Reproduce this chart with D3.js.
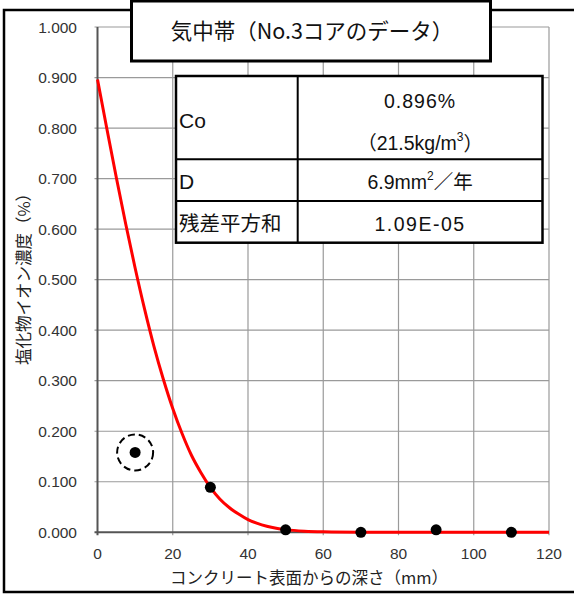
<!DOCTYPE html>
<html>
<head>
<meta charset="utf-8">
<script src="https://cdn.jsdelivr.net/npm/d3@7"></script>
<style>
  body { margin: 0; background: #fff; }
  text { font-family: "Liberation Sans", "Noto Sans CJK JP", sans-serif; }
  .jp { font-family: "Noto Sans CJK JP", sans-serif; }
</style>
</head>
<body>
<div id="chart"></div>
<script>
// measured points (depth mm, chloride %)
var depth = [10, 30, 50, 70, 90, 110];
var conc = [0.158, 0.089, 0.005, 0.000, 0.005, 0.000];
var outlierIdx = 0; // circled point

// fitted curve
var curveDepth = [0, 2.5, 5, 7.5, 10, 12.5, 15, 17.5, 20, 22.5, 25, 27.5, 30, 32.5, 35, 37.5, 40, 42.5, 45, 47.5, 50, 55, 60, 70, 80, 100, 120];
var curveConc = [0.896, 0.798, 0.702, 0.610, 0.523, 0.442, 0.368, 0.303, 0.245, 0.195, 0.152, 0.118, 0.089, 0.066, 0.049, 0.036, 0.025, 0.0175, 0.012, 0.008, 0.0053, 0.0022, 0.0009, 0.0001, 0, 0, 0];

var xTicks = [0, 20, 40, 60, 80, 100, 120];
var yTicks = [0, 0.1, 0.2, 0.3, 0.4, 0.5, 0.6, 0.7, 0.8, 0.9, 1.0];

var title = "気中帯（No.3コアのデータ）";
var xTitle = "コンクリート表面からの深さ（mm）";
var yTitle = "塩化物イオン濃度（%）";

var W = 574, H = 596;
var svg = d3.select("#chart").append("svg")
    .attr("width", W)
    .attr("height", H);

// outer frame
svg.append("rect")
    .attr("x", 4).attr("y", 10)
    .attr("width", 600).attr("height", 582)
    .attr("fill", "#fff")
    .attr("stroke", "#000")
    .attr("stroke-width", 2.5);

var x = d3.scaleLinear().domain([0, 120]).range([97.5, 549]);
var y = d3.scaleLinear().domain([0, 1]).range([532.3, 27]);

// grid
var grid = svg.append("g");
grid.selectAll(".vg").data(xTicks.slice(1)).enter().append("line")
    .attr("x1", d => x(d)).attr("x2", d => x(d))
    .attr("y1", y(1)).attr("y2", y(0) + 3)
    .attr("stroke", "#9a9a9a").attr("stroke-width", 1.2);
grid.selectAll(".hg").data(yTicks.slice(1)).enter().append("line")
    .attr("x1", x(0) - 3).attr("x2", x(120))
    .attr("y1", d => y(d)).attr("y2", d => y(d))
    .attr("stroke", "#9a9a9a").attr("stroke-width", 1.2);

// axes lines
svg.append("line")
    .attr("x1", x(0)).attr("x2", x(0))
    .attr("y1", y(1)).attr("y2", y(0) + 3)
    .attr("stroke", "#555").attr("stroke-width", 2);
svg.append("line")
    .attr("x1", x(0) - 3).attr("x2", x(120))
    .attr("y1", y(0)).attr("y2", y(0))
    .attr("stroke", "#555").attr("stroke-width", 2);

// tick labels
svg.append("g").selectAll("text").data(yTicks).enter().append("text")
    .attr("x", 77)
    .attr("y", d => y(d))
    .attr("dy", "0.36em")
    .attr("text-anchor", "end")
    .attr("font-size", 15.5)
    .attr("fill", "#333")
    .text(d => d3.format(".3f")(d));

svg.append("g").selectAll("text").data(xTicks).enter().append("text")
    .attr("x", d => x(d))
    .attr("y", 553)
    .attr("dy", "0.36em")
    .attr("text-anchor", "middle")
    .attr("font-size", 15.5)
    .attr("fill", "#333")
    .text(d => d);

// axis titles
svg.append("text")
    .attr("class", "jp")
    .attr("x", 309).attr("y", 578)
    .attr("dy", "0.36em")
    .attr("text-anchor", "middle")
    .attr("font-size", 16.5)
    .attr("fill", "#222")
    .text(xTitle);

svg.append("text")
    .attr("class", "jp")
    .attr("transform", "translate(24,275) rotate(-90)")
    .attr("dy", "0.36em")
    .attr("text-anchor", "middle")
    .attr("font-size", 16.5)
    .attr("fill", "#222")
    .text(yTitle);

// fitted curve
var line = d3.line()
    .x((d, i) => x(curveDepth[i]))
    .y(d => y(d))
    .curve(d3.curveMonotoneX);
svg.append("path")
    .datum(curveConc)
    .attr("fill", "none")
    .attr("stroke", "#ff0000")
    .attr("stroke-width", 3)
    .attr("d", line);

// points
svg.append("g").selectAll("circle").data(conc).enter().append("circle")
    .attr("cx", (d, i) => x(depth[i]))
    .attr("cy", d => y(d))
    .attr("r", 5.5)
    .attr("fill", "#000");

svg.append("circle")
    .attr("cx", x(depth[outlierIdx]))
    .attr("cy", y(conc[outlierIdx]))
    .attr("r", 18)
    .attr("fill", "none")
    .attr("stroke", "#000")
    .attr("stroke-width", 2)
    .attr("stroke-dasharray", "7,4");

// title box
svg.append("rect")
    .attr("x", 131.5).attr("y", 1)
    .attr("width", 359).attr("height", 60)
    .attr("fill", "#fff")
    .attr("stroke", "#000")
    .attr("stroke-width", 3);
svg.append("text")
    .attr("class", "jp")
    .attr("x", 312).attr("y", 31)
    .attr("dy", "0.36em")
    .attr("text-anchor", "middle")
    .attr("font-size", 21.5)
    .attr("fill", "#111")
    .text(title);

// parameter table
var tx0 = 176, tx1 = 542.5, tcol = 297.7;
var ty = [76, 159.3, 201, 242.7];
var tbl = svg.append("g");
tbl.append("rect")
    .attr("x", tx0).attr("y", ty[0])
    .attr("width", tx1 - tx0).attr("height", ty[3] - ty[0])
    .attr("fill", "#fff")
    .attr("stroke", "#000")
    .attr("stroke-width", 2.5);
tbl.append("line").attr("x1", tcol).attr("x2", tcol).attr("y1", ty[0]).attr("y2", ty[3])
    .attr("stroke", "#000").attr("stroke-width", 2);
[ty[1], ty[2]].forEach(function(v) {
  tbl.append("line").attr("x1", tx0).attr("x2", tx1).attr("y1", v).attr("y2", v)
      .attr("stroke", "#000").attr("stroke-width", 2);
});

var cx = (tcol + tx1) / 2;
function cell(xp, yp, anchor, size) {
  return tbl.append("text")
      .attr("x", xp).attr("y", yp)
      .attr("dy", "0.36em")
      .attr("text-anchor", anchor)
      .attr("font-size", size)
      .attr("fill", "#111");
}
cell(179, 120, "start", 21).text("Co");
cell(cx, 100.5, "middle", 19.5).attr("letter-spacing", 1).text("0.896%");
var t2 = cell(cx, 143, "middle", 19.5);
t2.append("tspan").attr("class", "jp").text("（");
t2.append("tspan").text("21.5kg/m");
t2.append("tspan").attr("font-size", 12).attr("dy", "-0.75em").text("3");
t2.append("tspan").attr("class", "jp").attr("dy", "0.5em").text("）");

cell(179, 181.5, "start", 21).text("D");
var t3 = cell(cx, 181.5, "middle", 19.5);
t3.append("tspan").text("6.9mm");
t3.append("tspan").attr("font-size", 12).attr("dy", "-0.75em").text("2");
t3.append("tspan").attr("class", "jp").attr("dy", "0.5em").text("／年");

cell(179, 223.5, "start", 20.5).attr("class", "jp").text("残差平方和");
cell(cx, 223.5, "middle", 19.5).attr("letter-spacing", 1.5).text("1.09E-05");
</script>
</body>
</html>
